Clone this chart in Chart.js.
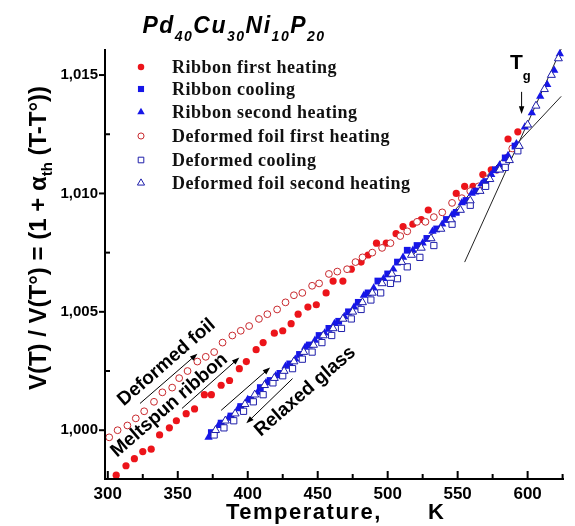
<!DOCTYPE html>
<html>
<head>
<meta charset="utf-8">
<script src="https://cdn.jsdelivr.net/npm/chart.js@4.4.0/dist/chart.umd.min.js"></script>
<style>
  html, body { margin: 0; padding: 0; background: #fff; }
</style>
</head>
<body>
<canvas id="chart" width="575" height="526"></canvas>
<script>
// ---- data (T in K, relative volume) ----
const xTicks = [300, 350, 400, 450, 500, 550, 600];
const xMinorTicks = [325, 375, 425, 475, 525, 575, 625];
const yTicks = [1.000, 1.005, 1.010, 1.015];
const yMinorTicks = [1.0025, 1.0075, 1.0125];

const seriesNames = ["Ribbon first heating", "Ribbon cooling", "Ribbon second heating",
  "Deformed foil first heating", "Deformed cooling", "Deformed foil second heating"];

const ribbonHeat1T = [306, 313, 319, 325, 331, 337, 344, 349, 356, 362, 369, 374, 381, 387, 394, 399, 406, 411, 419, 425, 431, 436, 443, 449, 456, 461, 468, 474, 481, 486, 492, 499, 506, 511, 518, 524, 529, 549, 555, 561, 568, 574, 586, 593];
const ribbonHeat1V = [0.9981, 0.9985, 0.9988, 0.9991, 0.9992, 0.9998, 1.0001, 1.0004, 1.0007, 1.0009, 1.0015, 1.0015, 1.0019, 1.0021, 1.0026, 1.0029, 1.0034, 1.0037, 1.0041, 1.0042, 1.0045, 1.0049, 1.0052, 1.0053, 1.0058, 1.0063, 1.0063, 1.0068, 1.0071, 1.0074, 1.0079, 1.0079, 1.0083, 1.0086, 1.0087, 1.0089, 1.0093, 1.0100, 1.0103, 1.0103, 1.0108, 1.0110, 1.0123, 1.0126];

const ribbonCoolT = [374, 381, 388, 395, 402, 409, 416, 423, 430, 437, 444, 451, 458, 465, 472, 479, 486, 493, 500, 507, 514, 521, 528, 535, 542, 549, 556, 563, 570, 577, 584, 591];
const ribbonCoolV = [0.9999, 1.0003, 1.0006, 1.0010, 1.0013, 1.0018, 1.0021, 1.0024, 1.0028, 1.0032, 1.0036, 1.0040, 1.0043, 1.0046, 1.0050, 1.0054, 1.0058, 1.0063, 1.0066, 1.0071, 1.0076, 1.0078, 1.0081, 1.0085, 1.0089, 1.0092, 1.0097, 1.0101, 1.0105, 1.0110, 1.0115, 1.0120];

const ribbonHeat2T = [372, 379, 386, 393, 400, 407, 413, 420, 427, 434, 441, 448, 455, 462, 469, 476, 483, 490, 497, 504, 511, 518, 525, 532, 539, 546, 553, 560, 567, 574, 580, 586, 592, 598, 603, 609, 614, 619, 623];
const ribbonHeat2V = [0.9997, 1.0002, 1.0005, 1.0009, 1.0013, 1.0016, 1.0020, 1.0023, 1.0027, 1.0030, 1.0035, 1.0038, 1.0041, 1.0045, 1.0048, 1.0052, 1.0057, 1.0060, 1.0064, 1.0068, 1.0073, 1.0076, 1.0079, 1.0084, 1.0087, 1.0091, 1.0096, 1.0100, 1.0104, 1.0108, 1.0112, 1.0116, 1.0121, 1.0128, 1.0134, 1.0141, 1.0146, 1.0152, 1.0159];

const foilHeat1T = [301, 307, 314, 320, 326, 333, 339, 346, 351, 357, 364, 370, 376, 382, 389, 395, 401, 408, 414, 421, 427, 433, 439, 446, 451, 458, 464, 471, 477, 482, 489, 496, 502, 509, 514, 521, 527, 533, 539, 546, 553, 559, 565, 571, 578, 585, 589];
const foilHeat1V = [0.9997, 1.0000, 1.0002, 1.0005, 1.0008, 1.0012, 1.0016, 1.0018, 1.0022, 1.0025, 1.0029, 1.0031, 1.0033, 1.0037, 1.0040, 1.0042, 1.0044, 1.0047, 1.0049, 1.0051, 1.0054, 1.0057, 1.0058, 1.0061, 1.0062, 1.0066, 1.0067, 1.0068, 1.0071, 1.0073, 1.0075, 1.0077, 1.0079, 1.0082, 1.0084, 1.0088, 1.0088, 1.0090, 1.0092, 1.0096, 1.0098, 1.0101, 1.0103, 1.0106, 1.0110, 1.0115, 1.0119];

const foilCoolT = [376, 383, 390, 397, 404, 411, 418, 425, 432, 439, 446, 453, 460, 467, 474, 481, 488, 495, 502, 507, 514, 523, 533, 546, 559, 570, 584, 593];
const foilCoolV = [0.9998, 1.0001, 1.0004, 1.0008, 1.0012, 1.0015, 1.0020, 1.0023, 1.0026, 1.0030, 1.0033, 1.0037, 1.0040, 1.0043, 1.0047, 1.0051, 1.0055, 1.0058, 1.0062, 1.0064, 1.0069, 1.0073, 1.0078, 1.0087, 1.0095, 1.0103, 1.0111, 1.0118];

const foilHeat2T = [377, 384, 391, 398, 405, 412, 419, 426, 433, 440, 447, 454, 461, 468, 475, 482, 489, 496, 503, 510, 517, 524, 531, 538, 545, 552, 559, 566, 573, 580, 587, 594, 600, 606, 612, 617, 622];
const foilHeat2V = [1.0000, 1.0004, 1.0007, 1.0011, 1.0015, 1.0019, 1.0022, 1.0025, 1.0029, 1.0033, 1.0036, 1.0040, 1.0043, 1.0047, 1.0050, 1.0054, 1.0058, 1.0062, 1.0066, 1.0071, 1.0074, 1.0077, 1.0081, 1.0085, 1.0089, 1.0093, 1.0097, 1.0101, 1.0106, 1.0110, 1.0114, 1.0120, 1.0129, 1.0137, 1.0144, 1.0150, 1.0157];

// tangent lines
const liquidLineT = [555, 624];
const liquidLineV = [1.0071, 1.0161];
const glassLineT = [518, 624];
const glassLineV = [1.0074, 1.0141];

// annotation arrows [T1, V1, T2, V2], head at the second point
const arrows = [
  [323, 1.00113, 364, 1.00323],
  [353, 1.00092, 394, 1.00307],
  [381, 1.00084, 416, 1.00265],
  [432, 1.00218, 399, 1.00029],
  [595.7, 1.01429, 595.7, 1.01336]
];
// rotated labels [text, T, V]
const labels = [
  ["Deformed foil", 342, 1.00286],
  ["Meltspun ribbon", 344, 1.00105],
  ["Relaxed glass", 441, 1.00164]
];

const RED = "rgb(236,20,26)";
const RED_OPEN = "rgb(200,40,45)";
const BLUE = "rgb(22,22,232)";
const NAVY = "rgb(30,30,170)";
const SANS = "'Liberation Sans', Arial, sans-serif";

function pts(xs, ys) {
  return xs.map((x, i) => ({x: x, y: ys[i]}));
}

const styles = [
  {pointStyle: "circle", radius: 3.6, bg: RED, border: RED, bw: 0},
  {pointStyle: "rect", radius: 4.8, bg: BLUE, border: BLUE, bw: 0},
  {pointStyle: "triangle", radius: 4.8, bg: BLUE, border: BLUE, bw: 0},
  {pointStyle: "circle", radius: 3.4, bg: "#fff", border: RED_OPEN, bw: 1},
  {pointStyle: "rect", radius: 4.4, bg: "#fff", border: NAVY, bw: 1},
  {pointStyle: "triangle", radius: 4.6, bg: "#fff", border: NAVY, bw: 1}
];
const seriesData = [
  pts(ribbonHeat1T, ribbonHeat1V),
  pts(ribbonCoolT, ribbonCoolV),
  pts(ribbonHeat2T, ribbonHeat2V),
  pts(foilHeat1T, foilHeat1V),
  pts(foilCoolT, foilCoolV),
  pts(foilHeat2T, foilHeat2V)
];
const drawOrder = [6, 4, 3, 5, 2, 1];

const datasets = seriesNames.map((name, i) => ({
  label: name,
  data: seriesData[i],
  showLine: false,
  pointStyle: styles[i].pointStyle,
  pointRadius: styles[i].radius,
  pointBackgroundColor: styles[i].bg,
  pointBorderColor: styles[i].border,
  pointBorderWidth: styles[i].bw,
  order: drawOrder[i]
}));
datasets.push({
  label: "liquid", data: pts(liquidLineT, liquidLineV), showLine: true,
  borderColor: "#222", borderWidth: 1, pointRadius: 0, order: 10
});
datasets.push({
  label: "glass", data: pts(glassLineT, glassLineV), showLine: true,
  borderColor: "#222", borderWidth: 1, pointRadius: 0, order: 10
});

// draw a row of text pieces, each with its own font and baseline shift
function drawRuns(ctx, runs, x, y, align) {
  let total = 0;
  runs.forEach(r => { ctx.font = r.font; total += ctx.measureText(r.t).width; });
  let cx = align === "center" ? x - total / 2 : x;
  ctx.textAlign = "left";
  runs.forEach(r => {
    ctx.font = r.font;
    ctx.fillText(r.t, cx, y + (r.dy || 0));
    cx += ctx.measureText(r.t).width;
  });
}

function arrow(ctx, x1, y1, x2, y2) {
  const ang = Math.atan2(y2 - y1, x2 - x1);
  ctx.beginPath();
  ctx.moveTo(x1, y1);
  ctx.lineTo(x2 - Math.cos(ang) * 5, y2 - Math.sin(ang) * 5);
  ctx.stroke();
  ctx.beginPath();
  ctx.moveTo(x2, y2);
  ctx.lineTo(x2 - Math.cos(ang - 0.35) * 8, y2 - Math.sin(ang - 0.35) * 8);
  ctx.lineTo(x2 - Math.cos(ang + 0.35) * 8, y2 - Math.sin(ang + 0.35) * 8);
  ctx.closePath();
  ctx.fill();
}

const decor = {
  id: "decor",
  afterDraw(chart) {
    const ctx = chart.ctx;
    const xs = chart.scales.x, ys = chart.scales.y, a = chart.chartArea;
    ctx.save();
    ctx.fillStyle = "#000";
    ctx.strokeStyle = "#000";

    // axes
    ctx.lineWidth = 2;
    ctx.beginPath();
    ctx.moveTo(a.left, a.top);
    ctx.lineTo(a.left, a.bottom);
    ctx.lineTo(a.right, a.bottom);
    ctx.stroke();

    // tick marks (x inward, y outward major / inward minor)
    xTicks.forEach(v => {
      const px = xs.getPixelForValue(v);
      ctx.beginPath(); ctx.moveTo(px, a.bottom); ctx.lineTo(px, a.bottom - 8); ctx.stroke();
    });
    xMinorTicks.forEach(v => {
      const px = xs.getPixelForValue(v);
      ctx.beginPath(); ctx.moveTo(px, a.bottom); ctx.lineTo(px, a.bottom - 5); ctx.stroke();
    });
    yTicks.forEach(v => {
      const py = ys.getPixelForValue(v);
      ctx.beginPath(); ctx.moveTo(a.left - 6, py); ctx.lineTo(a.left, py); ctx.stroke();
    });
    yMinorTicks.forEach(v => {
      const py = ys.getPixelForValue(v);
      ctx.beginPath(); ctx.moveTo(a.left, py); ctx.lineTo(a.left + 5, py); ctx.stroke();
    });

    // title
    const big = "italic bold 23px " + SANS, small = "italic bold 14px " + SANS;
    ctx.letterSpacing = "1.5px";
    drawRuns(ctx, [
      {t: "Pd", font: big}, {t: "40", font: small, dy: 8},
      {t: "Cu", font: big}, {t: "30", font: small, dy: 8},
      {t: "Ni", font: big}, {t: "10", font: small, dy: 8},
      {t: "P", font: big}, {t: "20", font: small, dy: 8}
    ], 234, 33, "center");
    ctx.letterSpacing = "0px";

    // y axis title
    ctx.save();
    ctx.translate(46, 238);
    ctx.rotate(-Math.PI / 2);
    drawRuns(ctx, [
      {t: "V(T) / V(T\u00b0) = (1 + \u03b1", font: "bold 24px " + SANS},
      {t: "th", font: "bold 15px " + SANS, dy: 6},
      {t: " (T-T\u00b0))", font: "bold 24px " + SANS}
    ], 0, 0, "center");
    ctx.restore();

    // x axis title
    ctx.font = "bold 22px " + SANS;
    ctx.letterSpacing = "1.5px";
    ctx.textAlign = "left";
    ctx.fillText("Temperature,", 226, 519);
    ctx.fillText("K", 428, 519);
    ctx.letterSpacing = "0px";

    // legend
    const rows = [67, 89, 112, 136, 160, 183];
    seriesNames.forEach((name, i) => {
      const s = styles[i];
      ctx.fillStyle = s.bg;
      ctx.strokeStyle = s.border;
      ctx.lineWidth = s.bw;
      Chart.helpers.drawPoint(ctx, {pointStyle: s.pointStyle, radius: s.radius * 0.9, rotation: 0, borderWidth: s.bw}, 141, rows[i]);
      ctx.fillStyle = "#111";
      ctx.font = "bold 18px 'Liberation Serif', 'Times New Roman', serif";
      ctx.letterSpacing = "0.5px";
      ctx.textAlign = "left";
      ctx.textBaseline = "middle";
      ctx.fillText(name, 172, rows[i] + 1);
      ctx.letterSpacing = "0px";
    });
    ctx.textBaseline = "alphabetic";

    // arrows
    ctx.fillStyle = "#000";
    ctx.strokeStyle = "#000";
    ctx.lineWidth = 1;
    arrows.forEach(r => {
      arrow(ctx, xs.getPixelForValue(r[0]), ys.getPixelForValue(r[1]),
        xs.getPixelForValue(r[2]), ys.getPixelForValue(r[3]));
    });

    // rotated labels
    labels.forEach(l => {
      ctx.save();
      ctx.translate(xs.getPixelForValue(l[1]), ys.getPixelForValue(l[2]));
      ctx.rotate(-41 * Math.PI / 180);
      ctx.font = "bold 19px " + SANS;
      ctx.textAlign = "center";
      ctx.textBaseline = "middle";
      ctx.fillText(l[0], 0, 0);
      ctx.restore();
    });

    // Tg
    ctx.textBaseline = "alphabetic";
    drawRuns(ctx, [
      {t: "T", font: "bold 21px " + SANS},
      {t: "g", font: "bold 13px " + SANS, dy: 11}
    ], 510, 69, "left");

    ctx.restore();
  }
};

new Chart(document.getElementById("chart"), {
  type: "scatter",
  data: {datasets: datasets},
  plugins: [decor],
  options: {
    responsive: false,
    animation: false,
    devicePixelRatio: 1,
    layout: {padding: {left: 0, right: 11, top: 49, bottom: 0}},
    plugins: {legend: {display: false}, tooltip: {enabled: false}},
    scales: {
      x: {
        type: "linear",
        min: 298,
        max: 626,
        afterBuildTicks: s => { s.ticks = xTicks.map(v => ({value: v})); },
        afterFit: s => { s.height = 47; },
        grid: {display: false, drawTicks: false},
        border: {display: false},
        ticks: {color: "#000", padding: 5, maxRotation: 0, font: {family: SANS, size: 17, weight: "bold"}}
      },
      y: {
        type: "linear",
        min: 0.99794,
        max: 1.0161,
        afterBuildTicks: s => { s.ticks = yTicks.map(v => ({value: v})); },
        afterFit: s => { s.width = 105; },
        grid: {display: false, drawTicks: false},
        border: {display: false},
        ticks: {
          color: "#000", padding: 7,
          font: {family: SANS, size: 15, weight: "bold"},
          callback: v => v.toFixed(3).replace(".", ",")
        }
      }
    }
  }
});
</script>
</body>
</html>
